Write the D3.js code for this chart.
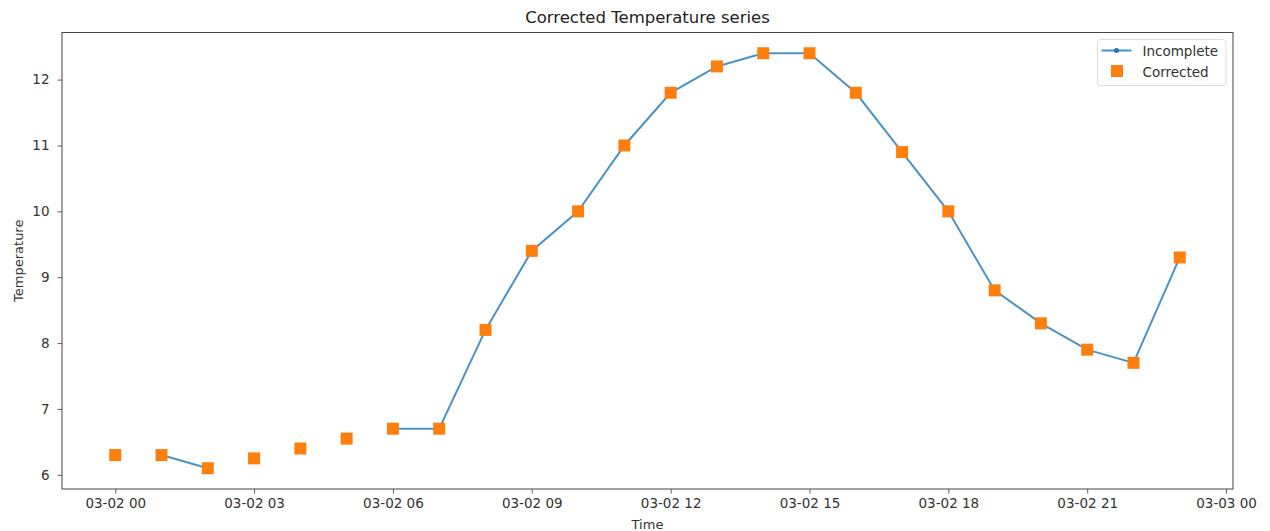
<!DOCTYPE html>
<html>
<head>
<meta charset="utf-8">
<script src="https://cdn.jsdelivr.net/npm/d3@7"></script>
<style>
  body { margin: 0; background: #fff; }
  svg { font-family: "DejaVu Sans", sans-serif; }
</style>
</head>
<body>
<svg id="chart" width="1270" height="531"></svg>
<script>
const hours = [0,1,2,3,4,5,6,7,8,9,10,11,12,13,14,15,16,17,18,19,20,21,22,23];
const corrected = [6.3,6.3,6.1,6.25,6.4,6.55,6.7,6.7,8.2,9.4,10.0,11.0,11.8,12.2,12.4,12.4,11.8,10.9,10.0,8.8,8.3,7.9,7.7,9.3];
const incomplete = [null,6.3,6.1,null,null,null,6.7,6.7,8.2,9.4,10.0,11.0,11.8,12.2,12.4,12.4,11.8,10.9,10.0,8.8,8.3,7.9,7.7,9.3];
const yTicks = [6,7,8,9,10,11,12];
const xTickHours = [0,3,6,9,12,15,18,21,24];
const xTickLabels = ["03-02 00","03-02 03","03-02 06","03-02 09","03-02 12","03-02 15","03-02 18","03-02 21","03-03 00"];
const seriesNames = ["Incomplete","Corrected"];

const svg = d3.select("#chart");
const L = 62, R = 1233, T = 32.5, B = 489;
const base = new Date(2021, 2, 2, 0, 0, 0);
const toDate = h => new Date(base.getTime() + h * 3600000);

const x = d3.scaleTime()
  .domain([toDate(-1.15), toDate(24.15)])
  .range([L, R]);
const ymin = 6.1, ymax = 12.4, pad = (ymax - ymin) * 0.05;
const y = d3.scaleLinear().domain([ymin - pad, ymax + pad]).range([B, T]);

const blue = "#1f77b4", orange = "#ff7f0e";
const FS = 13.5;

// axes
const xAxis = d3.axisBottom(x)
  .tickValues(xTickHours.map(toDate))
  .tickFormat((d, i) => xTickLabels[i])
  .tickSize(4.5).tickPadding(4.5);
const gx = svg.append("g").attr("transform", `translate(0,${B})`).call(xAxis);
const yAxis = d3.axisLeft(y).tickValues(yTicks).tickFormat(d3.format("d")).tickSize(4.5).tickPadding(8);
const gy = svg.append("g").attr("transform", `translate(${L},0)`).call(yAxis);
[gx, gy].forEach(g => {
  g.select(".domain").remove();
  g.selectAll("line").attr("stroke", "#333").attr("stroke-width", 0.8);
  g.selectAll("text").attr("font-size", FS).attr("fill", "#333").attr("font-family", "DejaVu Sans");
});

// line
const line = d3.line()
  .defined(d => d[1] != null)
  .x(d => x(toDate(d[0])))
  .y(d => y(d[1]));
const incData = hours.map((h, i) => [h, incomplete[i]]);
svg.append("path")
  .datum(incData)
  .attr("d", line)
  .attr("fill", "none")
  .attr("stroke", blue)
  .attr("stroke-width", 2)
  .attr("opacity", 0.8);
svg.append("g").selectAll("circle")
  .data(incData.filter(d => d[1] != null))
  .join("circle")
  .attr("cx", d => x(toDate(d[0])))
  .attr("cy", d => y(d[1]))
  .attr("r", 2.5)
  .attr("fill", blue);

// corrected squares
const S = 12;
svg.append("g").selectAll("rect")
  .data(hours.map((h, i) => [h, corrected[i]]))
  .join("rect")
  .attr("x", d => x(toDate(d[0])) - S / 2)
  .attr("y", d => y(d[1]) - S / 2)
  .attr("width", S).attr("height", S)
  .attr("fill", orange);

// frame
svg.append("rect")
  .attr("x", L).attr("y", T).attr("width", R - L).attr("height", B - T)
  .attr("fill", "none").attr("stroke", "#444").attr("stroke-width", 1);

// title and labels
svg.append("text").attr("x", (L + R) / 2).attr("y", 23)
  .attr("text-anchor", "middle").attr("font-size", 16.5).attr("fill", "#222")
  .text("Corrected Temperature series");
svg.append("text").attr("x", (L + R) / 2).attr("y", 529)
  .attr("text-anchor", "middle").attr("font-size", 13).attr("fill", "#333")
  .text("Time");
svg.append("text").attr("transform", `translate(23,${(T + B) / 2}) rotate(-90)`)
  .attr("text-anchor", "middle").attr("font-size", 13).attr("fill", "#333")
  .text("Temperature");

// legend
const lg = svg.append("g").attr("transform", "translate(1097.5,39.5)");
lg.append("rect").attr("x", 0).attr("y", 0).attr("width", 128.5).attr("height", 46).attr("rx", 3)
  .attr("fill", "#fff").attr("stroke", "#ddd").attr("stroke-width", 1);
lg.append("line").attr("x1", 4).attr("x2", 34).attr("y1", 11).attr("y2", 11)
  .attr("stroke", blue).attr("stroke-width", 2).attr("opacity", 0.8);
lg.append("circle").attr("cx", 19).attr("cy", 11).attr("r", 2.5).attr("fill", blue);
lg.append("rect").attr("x", 13.5).attr("y", 25.5).attr("width", 12).attr("height", 12).attr("fill", orange);
lg.selectAll("text.lbl").data(seriesNames).join("text").attr("class", "lbl")
  .attr("x", 45).attr("y", (d, i) => 16 + i * 21)
  .attr("font-size", FS).attr("fill", "#333").text(d => d);
</script>
</body>
</html>
